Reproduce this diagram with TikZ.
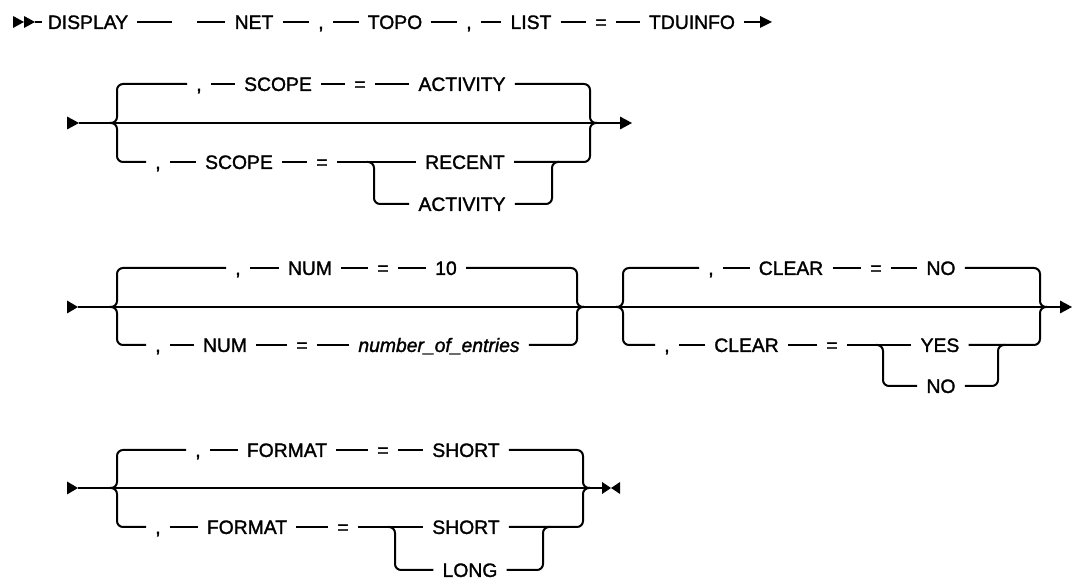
\documentclass[tikz,border=0pt]{standalone}
\usepackage{fontspec}
\setmainfont{Liberation Sans}
\newfontfamily\tokfont[FakeBold=1.5]{Liberation Sans}
\usetikzlibrary{calc}
\begin{document}
\begin{tikzpicture}[x=0.75pt,y=-0.75pt,
  ln/.style={line width=1.5pt},
  tok/.style={inner sep=0pt,text height=10.4pt,text depth=0pt,font=\tokfont\fontsize{14.5}{17}\selectfont},
  itok/.style={tok,font=\tokfont\fontsize{14.5}{17}\selectfont\itshape},
  gp/.style={shorten <=6.75pt,shorten >=6.75pt},
  gs/.style={shorten <=6.75pt},
  ge/.style={shorten >=6.75pt},
  rc/.style={rounded corners=4.5pt}]
\useasboundingbox (0,0) rectangle (1072,580);

% ---------------- top line ----------------
\coordinate (t0) at (35,22);
\fill (13,16) -- (13,28) -- (24,22) -- cycle;
\fill (24,16) -- (24,28) -- (35,22) -- cycle;
\node[tok] (display) at (88,22) {DISPLAY};
\coordinate (h1) at (172,22);
\coordinate (h2) at (197,22);
\node[tok] (net) at (254,22) {NET};
\node[tok] (c01) at (321,22) {,};
\node[tok] (topo) at (395,22) {TOPO};
\node[tok] (c02) at (469,22) {,};
\node[tok] (list) at (531,22) {LIST};
\node[tok] (eq0) at (601,22) {=};
\node[tok] (tdu) at (692,22) {TDUINFO};
\coordinate (t1) at (760,22);
\draw[ln,shorten >=4pt] (t0) -- (display);
\draw[ln,gs] (display) -- (h1);
\draw[ln,ge] (h2) -- (net);
\draw[ln,gp] (net) -- (c01);
\draw[ln,gp] (c01) -- (topo);
\draw[ln,gp] (topo) -- (c02);
\draw[ln,gp] (c02) -- (list);
\draw[ln,gp] (list) -- (eq0);
\draw[ln,gp] (eq0) -- (tdu);
\draw[ln,gs] (tdu) -- (t1);
\fill (760,16) -- (760,28) -- (772,22) -- cycle;

% ---------------- SCOPE ----------------
\coordinate (a2) at (79,123);
\coordinate (z2) at (620,123);
\fill (67,116.5) -- (67,129.5) -- (79,123) -- cycle;
\fill (620,116.5) -- (620,129.5) -- (632,123) -- cycle;
\draw[ln] (a2) -- (z2);
\coordinate (L2) at (117,123);
\coordinate (R2) at (590,123);
\node[tok] (c2t) at (199,84) {,};
\node[tok] (scope2t) at (278,84) {SCOPE};
\node[tok] (eq2t) at (360,84) {=};
\node[tok] (act2t) at (462,84) {ACTIVITY};
\draw[ln,rc,ge] ($(L2)+(-7,0)$) -- (L2) -- (L2 |- c2t) -- (c2t);
\draw[ln,gp] (c2t) -- (scope2t);
\draw[ln,gp] (scope2t) -- (eq2t);
\draw[ln,gp] (eq2t) -- (act2t);
\draw[ln,rc,gs] (act2t) -- (R2 |- act2t) -- (R2) -- ($(R2)+(7,0)$);
\node[tok] (c2b) at (158,162) {,};
\node[tok] (scope2b) at (239,162) {SCOPE};
\node[tok] (eq2b) at (322,162) {=};
\node[tok] (recent) at (465,162) {RECENT};
\node[tok] (act2b) at (462,204) {ACTIVITY};
\coordinate (S2L) at (374,162);
\coordinate (S2R) at (552,162);
\draw[ln,rc,ge] ($(L2)+(-7,0)$) -- (L2) -- (L2 |- c2b) -- (c2b);
\draw[ln,gp] (c2b) -- (scope2b);
\draw[ln,gp] (scope2b) -- (eq2b);
\draw[ln,gp] (eq2b) -- (recent);
\draw[ln,rc,gs] (recent) -- (R2 |- recent) -- (R2) -- ($(R2)+(7,0)$);
\draw[ln,rc,ge] ($(S2L)+(-7,0)$) -- (S2L) -- (S2L |- act2b) -- (act2b);
\draw[ln,rc,gs] (act2b) -- (S2R |- act2b) -- (S2R) -- ($(S2R)+(7,0)$);

% ---------------- NUM / CLEAR ----------------
\coordinate (a3) at (78,307);
\coordinate (z3) at (1060,307);
\fill (67,300.5) -- (67,313.5) -- (78,307) -- cycle;
\fill (1060,300.5) -- (1060,313.5) -- (1072,307) -- cycle;
\draw[ln] (a3) -- (z3);
\coordinate (L3) at (117,307);
\coordinate (R3) at (577,307);
\node[tok] (c3t) at (238,268) {,};
\node[tok] (num3t) at (310,268) {NUM};
\node[tok] (eq3t) at (383,268) {=};
\node[tok] (ten) at (446,268) {10};
\draw[ln,rc,ge] ($(L3)+(-7,0)$) -- (L3) -- (L3 |- c3t) -- (c3t);
\draw[ln,gp] (c3t) -- (num3t);
\draw[ln,gp] (num3t) -- (eq3t);
\draw[ln,gp] (eq3t) -- (ten);
\draw[ln,rc,gs] (ten) -- (R3 |- ten) -- (R3) -- ($(R3)+(7,0)$);
\node[tok] (c3b) at (158,345) {,};
\node[tok] (num3b) at (225,345) {NUM};
\node[tok] (eq3b) at (302,345) {=};
\node[itok] (noe) at (439,345) {number\_of\_entries};
\draw[ln,rc,ge] ($(L3)+(-7,0)$) -- (L3) -- (L3 |- c3b) -- (c3b);
\draw[ln,gp] (c3b) -- (num3b);
\draw[ln,gp] (num3b) -- (eq3b);
\draw[ln,gp] (eq3b) -- (noe);
\draw[ln,rc,gs] (noe) -- (R3 |- noe) -- (R3) -- ($(R3)+(7,0)$);

\coordinate (L4) at (623,307);
\coordinate (R4) at (1040,307);
\node[tok] (c4t) at (711,268) {,};
\node[tok] (clr4t) at (791,268) {CLEAR};
\node[tok] (eq4t) at (876,268) {=};
\node[tok] (no4t) at (941,268) {NO};
\draw[ln,rc,ge] ($(L4)+(-7,0)$) -- (L4) -- (L4 |- c4t) -- (c4t);
\draw[ln,gp] (c4t) -- (clr4t);
\draw[ln,gp] (clr4t) -- (eq4t);
\draw[ln,gp] (eq4t) -- (no4t);
\draw[ln,rc,gs] (no4t) -- (R4 |- no4t) -- (R4) -- ($(R4)+(7,0)$);
\node[tok] (c4b) at (667,345) {,};
\node[tok] (clr4b) at (746.5,345) {CLEAR};
\node[tok] (eq4b) at (832,345) {=};
\node[tok] (yes) at (940,345) {YES};
\node[tok] (no4b) at (941,386) {NO};
\coordinate (S4L) at (883,345);
\coordinate (S4R) at (998,345);
\draw[ln,rc,ge] ($(L4)+(-7,0)$) -- (L4) -- (L4 |- c4b) -- (c4b);
\draw[ln,gp] (c4b) -- (clr4b);
\draw[ln,gp] (clr4b) -- (eq4b);
\draw[ln,gp] (eq4b) -- (yes);
\draw[ln,rc,gs] (yes) -- (R4 |- yes) -- (R4) -- ($(R4)+(7,0)$);
\draw[ln,rc,ge] ($(S4L)+(-7,0)$) -- (S4L) -- (S4L |- no4b) -- (no4b);
\draw[ln,rc,gs] (no4b) -- (S4R |- no4b) -- (S4R) -- ($(S4R)+(7,0)$);

% ---------------- FORMAT ----------------
\coordinate (a5) at (78,488);
\coordinate (z5) at (602,488);
\fill (67,481.5) -- (67,494.5) -- (78,488) -- cycle;
\draw[ln] (a5) -- (z5);
\fill (602,482) -- (602,494) -- (611,488) -- cycle;
\fill (620,482) -- (620,494) -- (611,488) -- cycle;
\coordinate (L5) at (117,488);
\coordinate (R5) at (583,488);
\node[tok] (c5t) at (198,450) {,};
\node[tok] (fmt5t) at (287,450) {FORMAT};
\node[tok] (eq5t) at (383,450) {=};
\node[tok] (sh5t) at (466,450) {SHORT};
\draw[ln,rc,ge] ($(L5)+(-7,0)$) -- (L5) -- (L5 |- c5t) -- (c5t);
\draw[ln,gp] (c5t) -- (fmt5t);
\draw[ln,gp] (fmt5t) -- (eq5t);
\draw[ln,gp] (eq5t) -- (sh5t);
\draw[ln,rc,gs] (sh5t) -- (R5 |- sh5t) -- (R5) -- ($(R5)+(7,0)$);
\node[tok] (c5b) at (158,527) {,};
\node[tok] (fmt5b) at (247,527) {FORMAT};
\node[tok] (eq5b) at (343,527) {=};
\node[tok] (sh5b) at (466,527) {SHORT};
\node[tok] (long) at (470,570) {LONG};
\coordinate (S5L) at (395,527);
\coordinate (S5R) at (543,527);
\draw[ln,rc,ge] ($(L5)+(-7,0)$) -- (L5) -- (L5 |- c5b) -- (c5b);
\draw[ln,gp] (c5b) -- (fmt5b);
\draw[ln,gp] (fmt5b) -- (eq5b);
\draw[ln,gp] (eq5b) -- (sh5b);
\draw[ln,rc,gs] (sh5b) -- (R5 |- sh5b) -- (R5) -- ($(R5)+(7,0)$);
\draw[ln,rc,ge] ($(S5L)+(-7,0)$) -- (S5L) -- (S5L |- long) -- (long);
\draw[ln,rc,gs] (long) -- (S5R |- long) -- (S5R) -- ($(S5R)+(7,0)$);
\end{tikzpicture}
\end{document}
